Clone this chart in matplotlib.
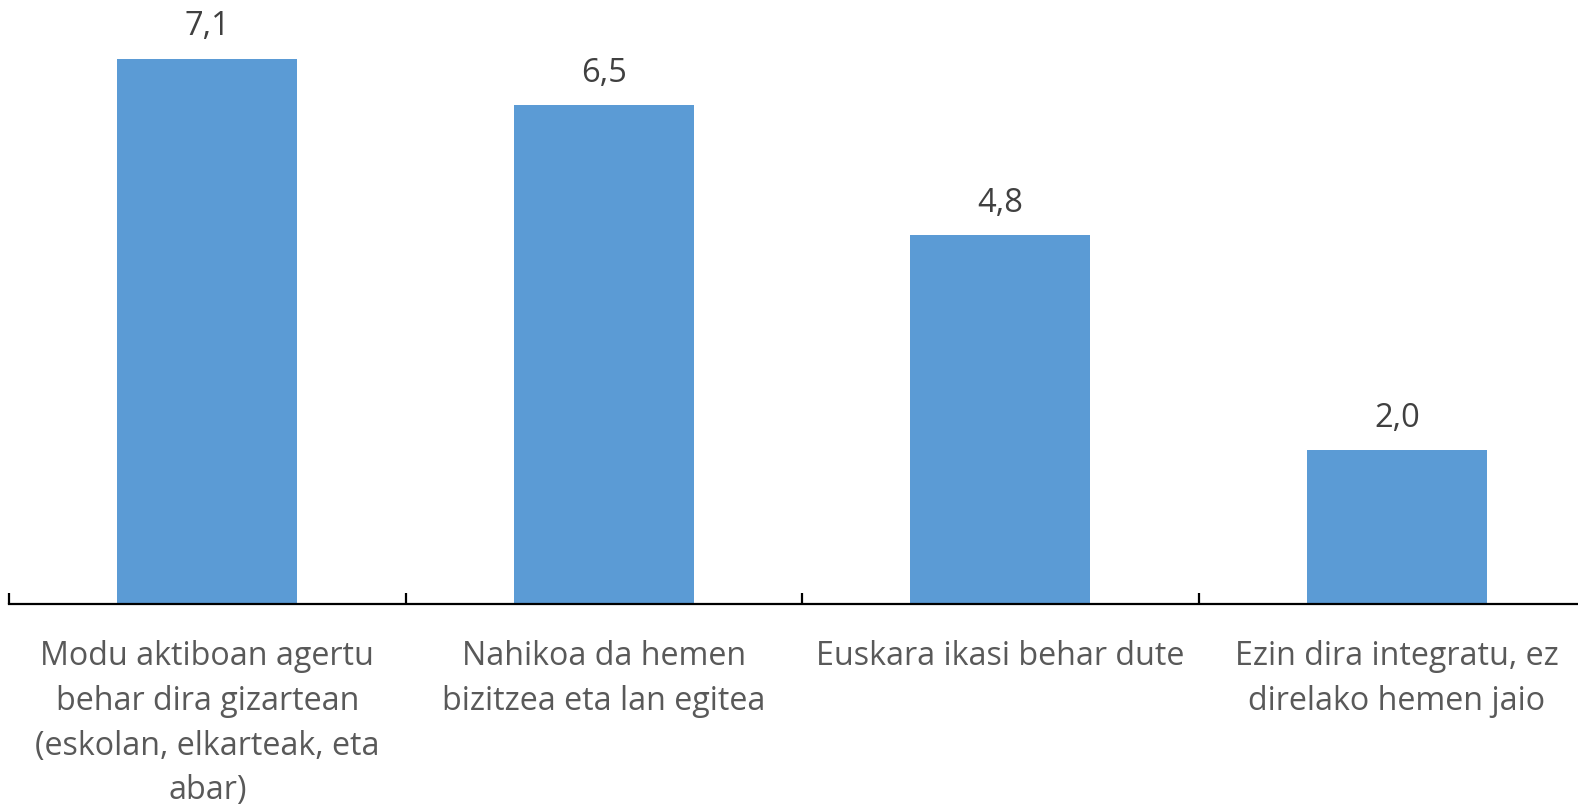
import numpy as np
import matplotlib
matplotlib.use('Agg')
import matplotlib.pyplot as plt

plt.rcParams.update({
    "font.family": ["Open Sans", "DejaVu Sans"],
    "font.size": 24,
})

categories = [
    'Modu aktiboan agertu\nbehar dira gizartean\n(eskolan, elkarteak, eta\nabar)',
    'Nahikoa da hemen\nbizitzea eta lan egitea',
    'Euskara ikasi behar dute',
    'Ezin dira integratu, ez\ndirelako hemen jaio',
]
values = [7.1, 6.5, 4.8, 2.0]
value_labels = ['7,1', '6,5', '4,8', '2,0']


def main():
    W, H = 1578, 805
    fig = plt.figure(figsize=(W / 100, H / 100), dpi=100)
    ax = fig.add_axes([9 / W, (H - 604) / H, 1586 / W, 604 / H])

    x = np.arange(len(values))
    ax.bar(x, values, width=0.454, color='#5B9BD5', zorder=2)

    for xi, v, lab in zip(x, values, value_labels):
        ax.annotate(lab, (xi, v), xytext=(0, 11), textcoords='offset points',
                    ha='center', va='bottom', fontsize=23.5, color='#404040')

    ax.set_xlim(-0.5, len(values) - 0.5)
    ax.set_ylim(0, 7.865)

    for s in ['top', 'right', 'left']:
        ax.spines[s].set_visible(False)
    ax.spines['bottom'].set_color('#000000')
    ax.spines['bottom'].set_linewidth(1.6)

    ax.set_yticks([])
    ax.set_xticks(x)
    ax.set_xticklabels(categories, fontsize=23.2, color='#595959', linespacing=1.47)
    ax.tick_params(axis='x', which='major', length=0, pad=26)
    ax.set_xticks(np.arange(-0.5, len(values)), minor=True)
    ax.tick_params(axis='x', which='minor', direction='in', length=8,
                   width=1.6, color='#000000')

    fig.savefig('out.png', dpi=100)
    plt.close(fig)


if __name__ == '__main__':
    main()
